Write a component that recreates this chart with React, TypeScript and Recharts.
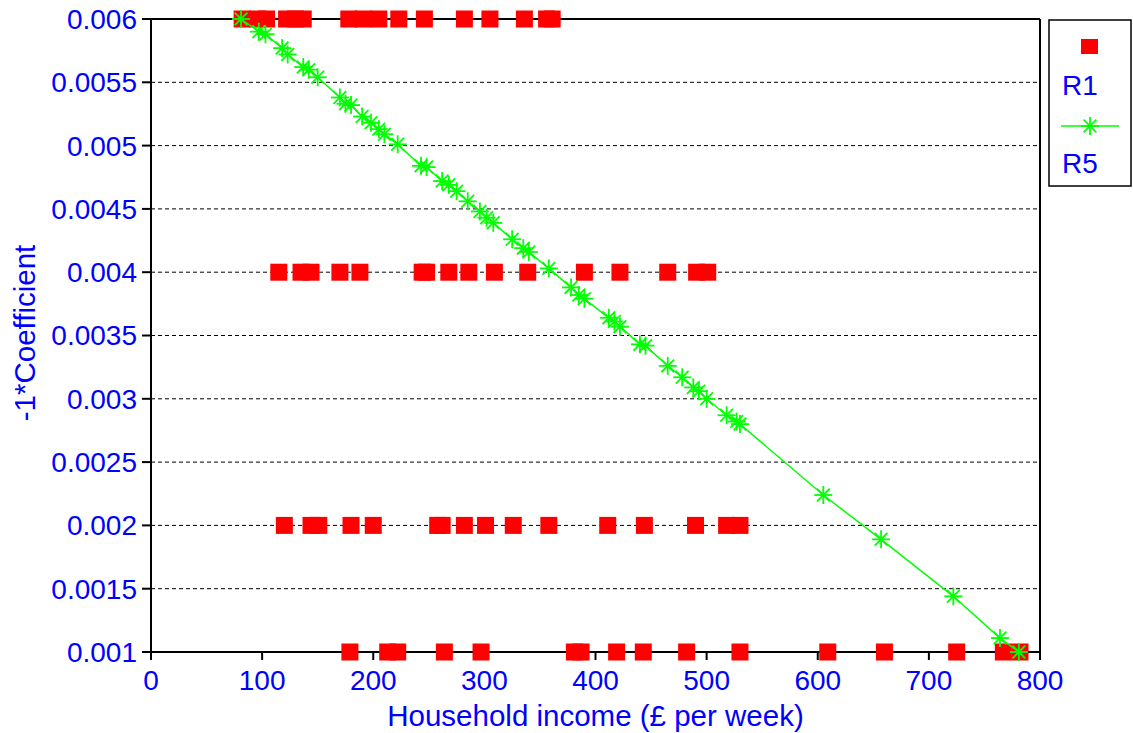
import {
  CartesianGrid,
  ComposedChart,
  Label,
  ReferenceLine,
  Scatter,
  XAxis,
  YAxis,
} from 'recharts'

// R1: coefficient steps, income positions of each point per level
const r1Level0006 = [82, 96, 104, 122, 130, 137, 178, 191, 205, 223, 246, 282, 305, 336, 356, 361]
const r1Level0004 = [115, 135, 144, 170, 188, 244, 248, 268, 286, 309, 339, 390, 422, 465, 491, 501]
const r1Level0002 = [120, 144, 151, 180, 200, 258, 262, 282, 301, 326, 358, 411, 444, 490, 518, 530]
const r1Level0001 = [179, 213, 222, 264, 297, 381, 387, 419, 443, 482, 530, 609, 660, 725, 767, 782]

// R5: smooth decline of the coefficient with income
const r5Income = [
  81, 97, 103, 118, 123, 137, 142, 150, 170, 175, 180, 190, 198, 205, 210, 222, 243, 248, 262, 268,
  275, 285, 296, 302, 308, 325, 335, 340, 358, 378, 385, 390, 412, 417, 422, 440, 445, 465, 478, 488,
  493, 500, 518, 527, 530, 605, 657, 722, 764, 781,
]
const r5Coef = [
  0.006, 0.0059, 0.00588, 0.00577, 0.00572, 0.00562, 0.0056, 0.00554, 0.00538, 0.00533, 0.00532,
  0.00523, 0.00518, 0.00513, 0.00509, 0.00501, 0.00484, 0.00483, 0.00472, 0.00469, 0.00464, 0.00456,
  0.00448, 0.00443, 0.00439, 0.00426, 0.00419, 0.00416, 0.00403, 0.00388, 0.00382, 0.00379, 0.00364,
  0.00361, 0.00357, 0.00343, 0.00342, 0.00326, 0.00317, 0.00309, 0.00306, 0.003, 0.00287, 0.00282,
  0.0028, 0.00224, 0.00189, 0.00144, 0.00111, 0.001,
]

const xTicks = [0, 100, 200, 300, 400, 500, 600, 700, 800]
const yTicks = [0.001, 0.0015, 0.002, 0.0025, 0.003, 0.0035, 0.004, 0.0045, 0.005, 0.0055, 0.006]

const levels: [number, number[]][] = [
  [0.006, r1Level0006],
  [0.004, r1Level0004],
  [0.002, r1Level0002],
  [0.001, r1Level0001],
]
const r1Data = levels.flatMap(([coef, xs]) => xs.map((x) => ({ x, y: coef })))
const r5Data = r5Income.map((x, i) => ({ x, y: r5Coef[i] }))

const FONT = '"Liberation Sans", Arial, sans-serif'
const BLUE = '#0000ff'
const RED = '#ff0000'
const GREEN = '#00ff00'

const Square = ({ cx, cy }: { cx?: number; cy?: number }) => {
  if (cx == null || cy == null) return null
  return <rect x={cx - 8.5} y={cy - 8.5} width={17} height={17} fill={RED} />
}

const Star = ({ cx, cy }: { cx?: number; cy?: number }) => {
  if (cx == null || cy == null) return null
  const r = 9
  const d = r * 0.707
  return (
    <g stroke={GREEN} strokeWidth={1.8}>
      <line x1={cx - r} y1={cy} x2={cx + r} y2={cy} />
      <line x1={cx} y1={cy - r} x2={cx} y2={cy + r} />
      <line x1={cx - d} y1={cy - d} x2={cx + d} y2={cy + d} />
      <line x1={cx - d} y1={cy + d} x2={cx + d} y2={cy - d} />
    </g>
  )
}

// boxed legend to the right of the plot, symbol above each series name
const LegendBox = () => (
  <svg width={84} height={168} style={{ position: 'absolute', left: 1048, top: 19 }}>
    <rect x={1} y={1} width={82} height={166} fill="#fff" stroke="#000" strokeWidth={1.5} />
    <rect x={33} y={20} width={17} height={15} fill={RED} />
    <text x={14} y={76} fill={BLUE} fontSize={28} fontFamily={FONT}>
      R1
    </text>
    <line x1={13} y1={107} x2={71} y2={107} stroke={GREEN} strokeWidth={1.5} />
    <Star cx={42} cy={107} />
    <text x={14} y={154} fill={BLUE} fontSize={28} fontFamily={FONT}>
      R5
    </text>
  </svg>
)

export default function App() {
  return (
    <div style={{ position: 'absolute', left: 0, top: 0, width: 1133, height: 733, background: '#fff' }}>
      <ComposedChart
        width={1133}
        height={733}
        margin={{ top: 19, right: 93, bottom: 0, left: 0 }}
        style={{ fontFamily: FONT }}
      >
        <CartesianGrid vertical={false} stroke="#000" strokeDasharray="4 3" horizontalValues={yTicks} />
        <XAxis
          type="number"
          dataKey="x"
          domain={[0, 800]}
          ticks={xTicks}
          height={81}
          tickSize={8}
          tickMargin={10}
          stroke="#000"
          strokeWidth={2}
          tick={{ fill: BLUE, fontSize: 28, fontFamily: FONT }}
        >
          <Label
            value="Household income (£ per week)"
            position="insideBottom"
            offset={7}
            fill={BLUE}
            fontSize={29.5}
            fontFamily={FONT}
          />
        </XAxis>
        <YAxis
          type="number"
          dataKey="y"
          domain={[0.001, 0.006]}
          ticks={yTicks}
          width={151}
          tickSize={9}
          tickMargin={5}
          stroke="#000"
          strokeWidth={2}
          tickFormatter={(v: number) => String(v)}
          tick={{ fill: BLUE, fontSize: 28, fontFamily: FONT }}
        >
          <Label
            content={() => (
              <text
                x={35}
                y={333}
                transform="rotate(-90 35 333)"
                textAnchor="middle"
                fill={BLUE}
                fontSize={29.5}
                fontFamily={FONT}
              >
                -1*Coefficient
              </text>
            )}
          />
        </YAxis>
        <ReferenceLine y={0.006} stroke="#000" strokeWidth={2} />
        <ReferenceLine x={800} stroke="#000" strokeWidth={2} />
        <Scatter name="R1" data={r1Data} shape={<Square />} isAnimationActive={false} />
        <Scatter
          name="R5"
          data={r5Data}
          shape={<Star />}
          line={{ stroke: GREEN, strokeWidth: 1.5 }}
          lineType="joint"
          isAnimationActive={false}
        />
      </ComposedChart>
      <LegendBox />
    </div>
  )
}
